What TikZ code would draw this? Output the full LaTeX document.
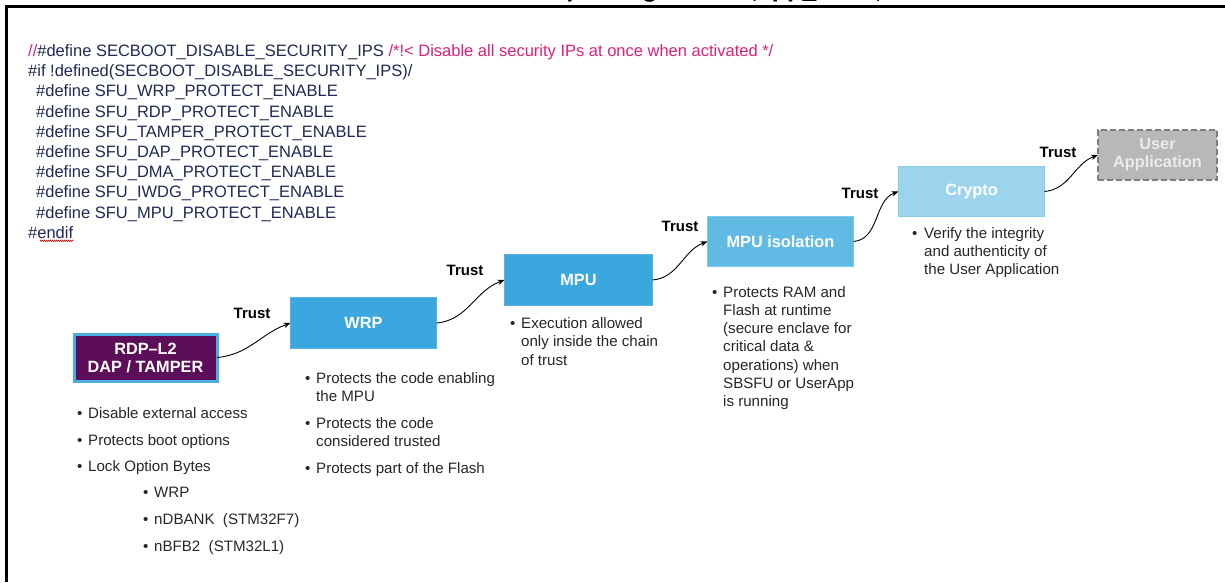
\documentclass[tikz,border=0pt]{standalone}
\usepackage{fontspec}
\setmainfont{Liberation Sans}
\newfontfamily\titlefont{Carlito}
\usetikzlibrary{arrows.meta,decorations.pathmorphing}
\definecolor{codeblue}{RGB}{31,42,84}
\definecolor{codemag}{RGB}{222,30,120}
\definecolor{rdpfill}{RGB}{92,14,88}
\definecolor{rdpedge}{RGB}{74,174,224}
\definecolor{wrpfill}{RGB}{58,168,222}
\definecolor{isofill}{RGB}{96,186,228}
\definecolor{cryfill}{RGB}{156,212,238}
\definecolor{usrfill}{RGB}{184,184,184}
\definecolor{usredge}{RGB}{125,125,125}
\definecolor{bodytext}{RGB}{38,38,38}
\tikzset{
  code/.style={anchor=base west, inner sep=0, text=codeblue, font=\fontsize{16.5}{18}\selectfont},
  blk/.style={inner sep=0, outer sep=0, text=white, font=\bfseries\fontsize{16.3}{18}\selectfont, align=center},
  trustlbl/.style={inner sep=0, font=\bfseries\fontsize{15}{17}\selectfont, text=black},
  item/.style={anchor=base west, inner sep=0, text=bodytext, font=\fontsize{15.1}{17}\selectfont},
  conn/.style={line width=0.9pt, -{Stealth[length=7pt,width=5.5pt]}}
}
\begin{document}
\begin{tikzpicture}[x=1pt,y=-1pt]
\useasboundingbox (0,0) rectangle (1225,582);
\begin{scope}
\clip (0,0) rectangle (1225,582);
\node[anchor=base east, inner sep=0, font=\titlefont\bfseries\fontsize{28.5}{32}\selectfont] (title) at (884,-2.5) {Security configuration (app\_sfu.h)};
\end{scope}
% frame
\draw[line width=3pt] (6.5,582) -- (6.5,6.5) -- (1225,6.5);

% code
\node[code] (c1) at (28,56.5) {\textcolor{codemag}{//}\#define SECBOOT\_DISABLE\_SECURITY\_IPS \textcolor{codemag}{/*!< Disable all security IPs at once when activated */}};
\node[code] (c2) at (28,76.7) {\#if !defined(SECBOOT\_DISABLE\_SECURITY\_IPS)/};
\node[code] (c3) at (36,96.9) {\#define SFU\_WRP\_PROTECT\_ENABLE};
\node[code] (c4) at (36,117.1) {\#define SFU\_RDP\_PROTECT\_ENABLE};
\node[code] (c5) at (36,137.3) {\#define SFU\_TAMPER\_PROTECT\_ENABLE};
\node[code] (c6) at (36,157.5) {\#define SFU\_DAP\_PROTECT\_ENABLE};
\node[code] (c7) at (36,177.7) {\#define SFU\_DMA\_PROTECT\_ENABLE};
\node[code] (c8) at (36,197.9) {\#define SFU\_IWDG\_PROTECT\_ENABLE};
\node[code] (c9) at (36,218.1) {\#define SFU\_MPU\_PROTECT\_ENABLE};
\node[code] (c10) at (28,238.3) {\#endif};
\draw[red!80!black, line width=0.6pt, decorate, decoration={zigzag, amplitude=0.7pt, segment length=2pt}] ([xshift=12pt,yshift=-2.5pt]c10.base west) -- ([yshift=-2.5pt]c10.base east);

% blocks
\node[blk, fill=rdpfill, draw=rdpedge, line width=3pt, minimum width=143pt, minimum height=47pt] (rdp) at (145.5,357.5) {RDP--L2\\DAP / TAMPER};
\node[blk, fill=wrpfill, draw=wrpfill!85!white, line width=1.2pt, minimum width=146pt, minimum height=51pt] (wrp) at (363.5,323) {WRP};
\node[blk, fill=wrpfill, draw=wrpfill!85!white, line width=1.2pt, minimum width=148pt, minimum height=51pt] (mpu) at (578.5,280) {MPU};
\node[blk, fill=isofill, draw=isofill!80!white, line width=1.5pt, minimum width=146pt, minimum height=50pt] (iso) at (780.5,241.5) {MPU isolation};
\node[blk, fill=cryfill, draw=cryfill!80!wrpfill, line width=1.2pt, minimum width=146pt, minimum height=50pt] (cry) at (971.5,191.5) {Crypto};
\node[blk, fill=usrfill, draw=usredge, line width=2.5pt, dash pattern=on 6pt off 3pt, minimum width=119pt, minimum height=50pt, text=white!92!black] (usr) at (1157.5,155) {User\\Application};

% connectors
\draw[conn] (rdp.east) to[out=5,in=200] (wrp.west);
\draw[conn] (wrp.east) to[out=5,in=200] (mpu.west);
\draw[conn] (mpu.east) to[out=5,in=200] (iso.west);
\draw[conn] (iso.east) to[out=5,in=200] (cry.west);
\draw[conn] (cry.east) to[out=5,in=200] (usr.west);

% trust labels
\node[trustlbl] (t1) at (252,313) {Trust};
\node[trustlbl] (t2) at (465,270) {Trust};
\node[trustlbl] (t3) at (680,226) {Trust};
\node[trustlbl] (t4) at (860,193) {Trust};
\node[trustlbl] (t5) at (1058,152) {Trust};

% RDP bullets
\node[item] (rb1) at (77,418) {•};
\node[item] (ra1) at (88,418) {Disable external access};
\node[item] (rb2) at (77,445) {•};
\node[item] (ra2) at (88,445) {Protects boot options};
\node[item] (rb3) at (77,471) {•};
\node[item] (ra3) at (88,471) {Lock Option Bytes};
\node[item] (rb4) at (143,497) {•};
\node[item] (ra4) at (154,497) {WRP};
\node[item] (rb5) at (143,524) {•};
\node[item] (ra5) at (154,524) {nDBANK\ \ (STM32F7)};
\node[item] (rb6) at (143,551) {•};
\node[item] (ra6) at (154,551) {nBFB2\ \ (STM32L1)};

% WRP bullets
\node[item] (wb1) at (305,383) {•};
\node[item] (wa1) at (316,383) {Protects the code enabling};
\node[item] (wa1b) at (316,401) {the MPU};
\node[item] (wb2) at (305,428) {•};
\node[item] (wa2) at (316,428) {Protects the code};
\node[item] (wa2b) at (316,446) {considered trusted};
\node[item] (wb3) at (305,473) {•};
\node[item] (wa3) at (316,473) {Protects part of the Flash};

% MPU bullets
\node[item] (mb1) at (510,328) {•};
\node[item] (ma1) at (521,328) {Execution allowed};
\node[item] (ma2) at (521,346.5) {only inside the chain};
\node[item] (ma3) at (521,365) {of trust};

% MPU isolation bullets
\node[item] (ib1) at (712,297) {•};
\node[item] (ia1) at (723,297) {Protects RAM and};
\node[item] (ia2) at (723,315.3) {Flash at runtime};
\node[item] (ia3) at (723,333.6) {(secure enclave for};
\node[item] (ia4) at (723,351.9) {critical data \&};
\node[item] (ia5) at (723,370.2) {operations) when};
\node[item] (ia6) at (723,388.5) {SBSFU or UserApp};
\node[item] (ia7) at (723,406.8) {is running};

% Crypto bullets
\node[item] (kb1) at (912,238) {•};
\node[item] (ka1) at (924,238) {Verify the integrity};
\node[item] (ka2) at (924,256) {and authenticity of};
\node[item] (ka3) at (924,274) {the User Application};
\end{tikzpicture}
\end{document}
